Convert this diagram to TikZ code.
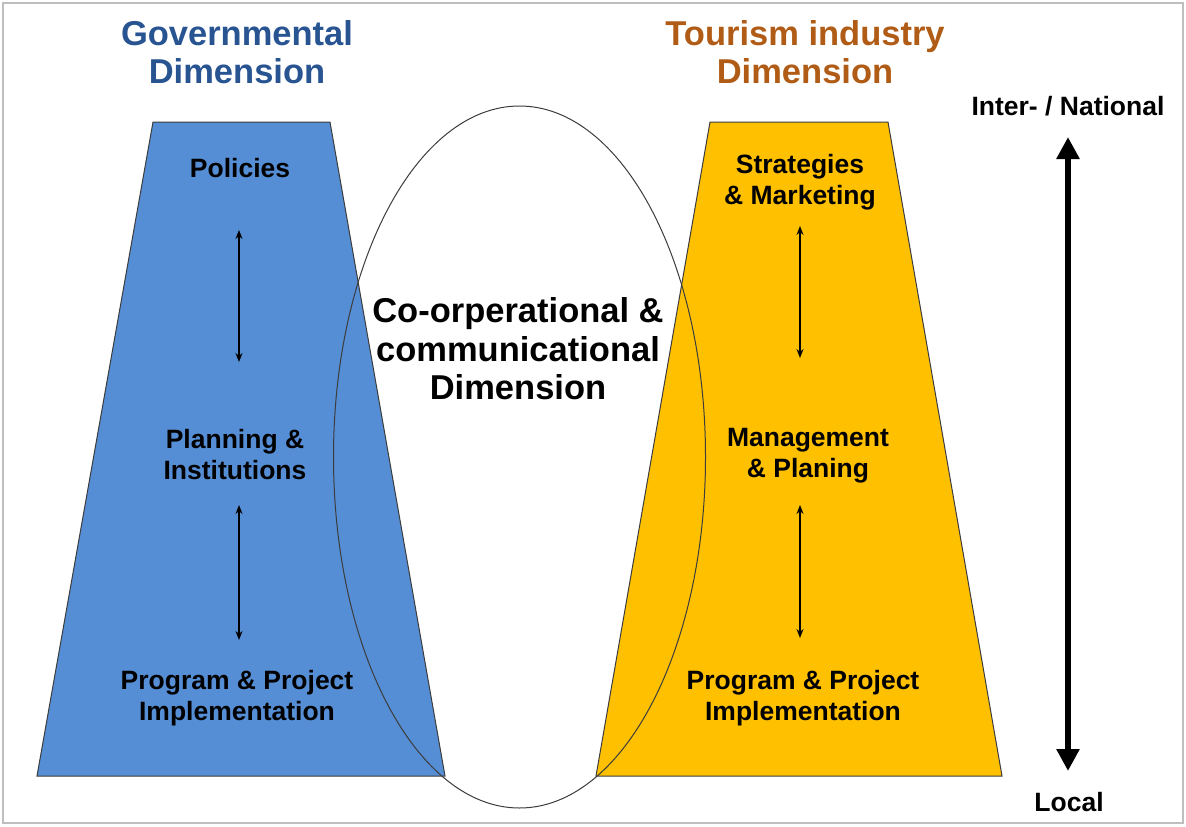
\documentclass[tikz,border=0pt]{standalone}
\usepackage{fontspec}
\setmainfont{Liberation Sans}
\usetikzlibrary{arrows.meta}
\definecolor{govfill}{RGB}{85,142,213}
\definecolor{tourfill}{RGB}{255,192,0}
\definecolor{govtitle}{RGB}{40,84,146}
\definecolor{tourtitle}{RGB}{176,92,22}
\definecolor{edge}{RGB}{60,60,60}
\definecolor{frame}{RGB}{190,190,190}
\begin{document}
\begin{tikzpicture}[x=1pt,y=-1pt,
  title/.style={font=\bfseries\fontsize{34.5}{38}\selectfont,align=center,inner sep=0pt},
  label/.style={font=\bfseries\fontsize{26.5}{31}\selectfont,align=center,inner sep=0pt},
  bigtext/.style={font=\bfseries\fontsize{34.5}{38.5}\selectfont,align=center,inner sep=0pt},
  trap/.style={draw=edge,line width=1pt},
  link/.style={line width=1.2pt,{Stealth[length=9pt,width=7pt]}-{Stealth[length=9pt,width=7pt]}},
  scale arrow/.style={line width=6pt,{Triangle[length=22pt,width=22pt]}-{Triangle[length=22pt,width=22pt]}}]
\useasboundingbox (0,0) rectangle (1186,827);
\draw[frame,line width=1.5pt] (3,3) rectangle (1183,823);

% the two dimension columns
\filldraw[trap,fill=govfill] (153,122) -- (330,122) -- (445,776) -- (37,776) -- cycle;
\filldraw[trap,fill=tourfill] (710,122) -- (888,122) -- (1002,776) -- (596,776) -- cycle;

% the shared dimension in between
\draw[edge,line width=1pt] (519.5,457) ellipse [x radius=186,y radius=351];

% titles
\node[title,text=govtitle] (govt) at (237,52) {Governmental\\Dimension};
\node[title,text=tourtitle] (tourt) at (805,52) {Tourism industry\\Dimension};

% governmental levels
\node[label] (pol) at (240,168) {Policies};
\node[label] (plan) at (235,455) {Planning \&\\Institutions};
\node[label] (gprog) at (237,698) {Program \& Project\\Implementation};

% tourism levels
\node[label] (strat) at (800,182) {Strategies\\\& Marketing};
\node[label] (mgmt) at (808,456) {Management\\\& Planing};
\node[label] (tprog) at (803,698) {Program \& Project\\Implementation};

% centre
\node[bigtext] (coop) at (518,349) {Co-orperational \&\\communicational\\Dimension};

% scale
\node[label] (nat) at (1068,106) {Inter- / National};
\node[label] (loc) at (1069,802) {Local};

\coordinate (g1) at (239,230);
\coordinate (g2) at (239,362);
\coordinate (g3) at (239,505);
\coordinate (g4) at (239,640);
\coordinate (t1) at (800,226);
\coordinate (t2) at (800,358);
\coordinate (t3) at (800,505);
\coordinate (t4) at (800,638);
\draw[link] (g1) -- (g2);
\draw[link] (g3) -- (g4);
\draw[link] (t1) -- (t2);
\draw[link] (t3) -- (t4);

\coordinate (s1) at (1068,137);
\coordinate (s2) at (1068,771);
\draw[scale arrow] (s1) -- (s2);
\end{tikzpicture}
\end{document}
